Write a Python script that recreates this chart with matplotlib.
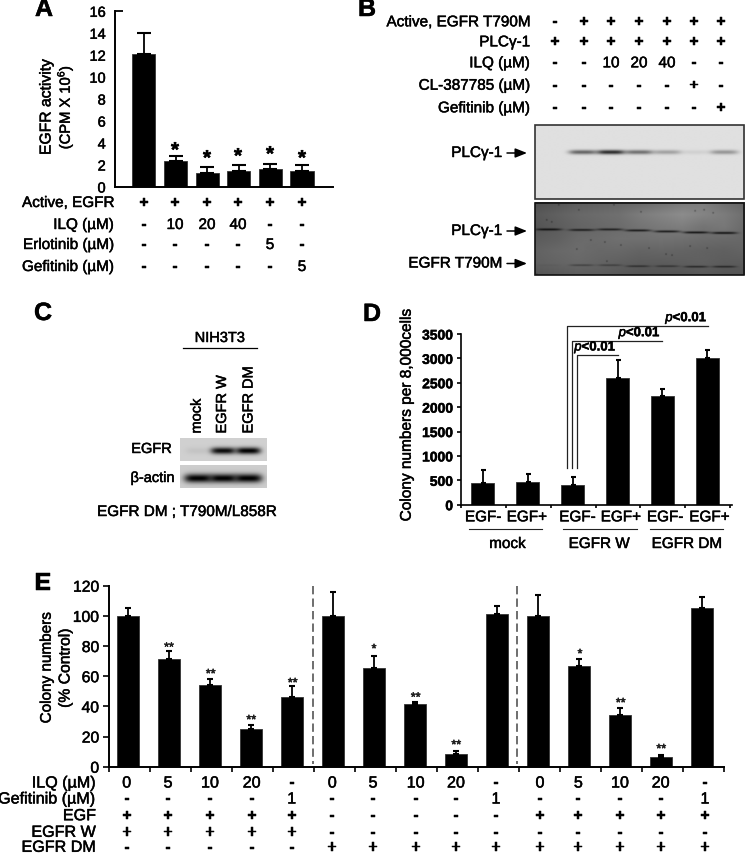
import numpy as np
import matplotlib
matplotlib.use('Agg')
import matplotlib.pyplot as plt
import matplotlib.patheffects as pe

plt.rcParams['font.family'] = ['Liberation Sans', 'DejaVu Sans']
plt.rcParams['mathtext.fontset'] = 'custom'
plt.rcParams['mathtext.rm'] = 'Liberation Sans'
plt.rcParams['mathtext.it'] = 'Liberation Sans:italic'
plt.rcParams['mathtext.bf'] = 'Liberation Sans:bold'

W, H = 745, 854

###################################################################################################
# data

# panel A
a_values = [12.1, 2.4, 1.3, 1.5, 1.65, 1.5]
a_tops = [14.05, 2.85, 1.85, 2.0, 2.1, 2.0]
a_rows = ['Active, EGFR', 'ILQ (µM)', 'Erlotinib (µM)', 'Gefitinib (µM)']
a_table = [['+', '+', '+', '+', '+', '+'],
           ['-', '10', '20', '40', '-', '-'],
           ['-', '-', '-', '-', '5', '-'],
           ['-', '-', '-', '-', '-', '5']]

# panel B
b_rows = ['Active, EGFR T790M', 'PLCγ-1', 'ILQ (µM)', 'CL-387785 (µM)', 'Gefitinib (µM)']
b_table = [['-', '+', '+', '+', '+', '+', '+'],
           ['+', '+', '+', '+', '+', '+', '+'],
           ['-', '-', '10', '20', '40', '-', '-'],
           ['-', '-', '-', '-', '-', '+', '-'],
           ['-', '-', '-', '-', '-', '-', '+']]
b_top_bands = [0.0, 0.55, 0.8, 0.5, 0.28, 0.07, 0.33]
b_load_bands = [0.8, 0.7, 0.7, 0.75, 0.75, 0.8, 0.8]
b_kinase_bands = [0.05, 0.35, 0.35, 0.5, 0.45, 0.6, 0.6]

# panel C
c_lanes = ['mock', 'EGFR W', 'EGFR DM']
c_egfr_bands = [0.06, 0.95, 1.0]
c_actin_bands = [1.0, 1.0, 1.0]

# panel D
d_values = [450, 470, 400, 2600, 2220, 3000]
d_tops = [710, 620, 570, 2970, 2380, 3180]
d_labels = ['EGF-', 'EGF+', 'EGF-', 'EGF+', 'EGF-', 'EGF+']
d_groups = ['mock', 'EGFR W', 'EGFR DM']

# panel E
e_values = [100, 71.5, 54, 25, 46.5, 100, 65.5, 41.4, 8.6, 101.4, 100, 66.5, 34.3, 6.3, 105]
e_tops = [105.5, 76.5, 58, 27.5, 53.5, 115.5, 73.5, 43, 10.6, 106.5, 113.6, 71.6, 38.7, 7.8, 112.3]
e_stars = ['', '**', '**', '**', '**', '', '*', '**', '**', '', '', '*', '**', '**', '']
e_rows = ['ILQ (µM)', 'Gefitinib (µM)', 'EGF', 'EGFR W', 'EGFR DM']
e_table = [['0', '5', '10', '20', '-', '0', '5', '10', '20', '-', '0', '5', '10', '20', '-'],
           ['-', '-', '-', '-', '1', '-', '-', '-', '-', '1', '-', '-', '-', '-', '1'],
           ['+', '+', '+', '+', '+', '-', '-', '-', '-', '-', '+', '+', '+', '+', '+'],
           ['+', '+', '+', '+', '+', '-', '-', '-', '-', '-', '-', '-', '-', '-', '-'],
           ['-', '-', '-', '-', '-', '+', '+', '+', '+', '+', '+', '+', '+', '+', '+']]

###################################################################################################

def px_axes(x0, x1, ytop, ybot):
    # axes placed by pixel box (y counted from the top of the figure)
    ax = fig.add_axes([x0 / W, 1 - ybot / H, (x1 - x0) / W, (ybot - ytop) / H])
    ax.patch.set_alpha(0)
    for s in ['top', 'right']:
        ax.spines[s].set_visible(False)
    return ax

def bars(ax, values, tops, width, cap):
    x = np.arange(len(values))
    ax.bar(x, values, width=width, color='black', edgecolor='#333333', linewidth=0.6)
    ax.errorbar(x, values, yerr=[np.zeros(len(values)), np.array(tops) - np.array(values)],
                fmt='none', ecolor='black', elinewidth=1.3, capsize=cap, capthick=1.5)
    return x

def table(xs, ys, rows, cells, right, size=11):
    for y, name, row in zip(ys, rows, cells):
        ov.text(right, y, name, ha='right', va='center', fontsize=size)
        for x, c in zip(xs, row):
            weight = 'bold' if c in '+-' else 'normal'
            ov.text(x, y, c, ha='center', va='center', fontsize=size, fontweight=weight)

def gel(box, bg, bands, edge=None, grid=None, specks=()):
    # bands: (x, y, half width, half height, strength) in pixels
    x0, x1, y0, y1 = box
    xx, yy = np.meshgrid(np.arange(x0, x1, 0.5), np.arange(y0, y1, 0.5))
    img = np.full(xx.shape, float(bg))
    if grid is not None:
        g = np.array(grid, dtype=float)
        gy = np.interp(yy[:, 0], np.linspace(y0, y1, g.shape[0]), np.arange(g.shape[0]))
        gx = np.interp(xx[0], np.linspace(x0, x1, g.shape[1]), np.arange(g.shape[1]))
        iy0 = np.clip(gy.astype(int), 0, g.shape[0] - 2)
        ix0 = np.clip(gx.astype(int), 0, g.shape[1] - 2)
        fy = (gy - iy0)[:, None]
        fx = (gx - ix0)[None, :]
        img = (g[iy0][:, ix0] * (1 - fx) * (1 - fy) + g[iy0][:, ix0 + 1] * fx * (1 - fy)
               + g[iy0 + 1][:, ix0] * (1 - fx) * fy + g[iy0 + 1][:, ix0 + 1] * fx * fy)
    for bx, by, hw, hh, s in bands:
        p = np.exp(-np.abs((xx - bx) / hw) ** 4 - ((yy - by) / hh) ** 2)
        img = img * (1 - s * p)
    for sx, sy in specks:
        img = img * (1 - 0.45 * np.exp(-((xx - sx) ** 2 + (yy - sy) ** 2) / 0.6))
    ov.imshow(img, extent=[x0, x1, y1, y0], cmap='gray', vmin=0, vmax=255,
              interpolation='bilinear', aspect='auto', zorder=1)
    if edge:
        ov.add_patch(plt.Rectangle((x0, y0), x1 - x0, y1 - y0, fill=False, ec=edge, lw=1.2, zorder=2))

def arrow(x0, x1, y):
    ov.annotate('', xy=(x1, y), xytext=(x0, y),
                arrowprops=dict(arrowstyle='-|>,head_length=0.7,head_width=0.28', color='black',
                                lw=1.1, shrinkA=0, shrinkB=0))

###################################################################################################

fig = plt.figure(figsize=(W / 100, H / 100), dpi=100, facecolor='white')

# overlay in pixel coordinates for labels and gels
ov = fig.add_axes([0, 0, 1, 1], zorder=5)
ov.patch.set_alpha(0)

for letter, x, y in [('A', 44, 10), ('B', 367, 10), ('C', 43, 314), ('D', 372, 315), ('E', 43, 584)]:
    ov.text(x, y, letter, ha='center', va='center', fontsize=18, fontweight='bold')

###################################################################################################
# panel A

ax_a = px_axes(115.5, 333, 12.3, 188)
bars(ax_a, a_values, a_tops, 0.73, 5)
ax_a.set_xlim(-0.9, 5.98)
ax_a.set_ylim(0, 16)
ax_a.set_yticks(np.arange(0, 17, 2))
ax_a.set_xticks([])
ax_a.tick_params(axis='y', direction='in', length=0, labelsize=10.5, pad=7)
ax_a.yaxis.get_major_ticks()[-1].tick1line.set_markersize(6)
ax_a.yaxis.get_major_ticks()[-1].tick1line.set_markeredgewidth(1.3)
for s in ['left', 'bottom']:
    ax_a.spines[s].set_linewidth(1.4)

ov.text(46, 108, 'EGFR activity', rotation=90, ha='center', va='center', fontsize=11.3)
ov.text(65, 108, '(CPM X 10$^6$)', rotation=90, ha='center', va='center', fontsize=10.6)
for cx, cy in zip([175, 207, 238, 270, 302], [152, 160, 158, 156, 160]):
    ov.text(cx, cy, '*', ha='center', va='center', fontsize=15, fontweight='bold')
table([144, 175, 207, 238, 270, 302], [204, 226, 246, 268], a_rows, a_table, 114)

###################################################################################################
# panel B

table([555, 584, 611, 639, 667, 694, 721], [23.3, 43.3, 64.3, 86.7, 109.3], b_rows, b_table, 530)

top_x = [0, 582, 610, 638, 666, 694, 723]
gel((534.5, 744, 126, 199.5), 224,
    [(bx, 152.7, 14, 2.2, s) for bx, s in zip(top_x, b_top_bands) if s > 0], edge='#333333')

# coarse background of the blot, read by eye
blot_grid = [[78, 84, 92, 96, 100, 104, 112, 120, 126, 110, 100],
             [88, 96, 104, 108, 112, 124, 132, 140, 132, 124, 110],
             [84, 92, 100, 104, 108, 116, 122, 126, 116, 120, 106],
             [92, 96, 106, 108, 112, 112, 114, 112, 108, 106, 104],
             [98, 104, 108, 104, 104, 100, 102, 100, 98, 96, 100],
             [96, 100, 104, 100, 96, 92, 92, 94, 96, 92, 92],
             [84, 88, 92, 92, 88, 84, 84, 84, 88, 84, 84]]
load_x = [548, 581, 609, 637, 666, 695, 723]
kinase_x = [548, 581, 609, 637, 666, 695, 723]
load_y = [230.5, 231, 230.5, 231.5, 232.5, 233.5, 234]
kinase_y = [266, 266, 266, 267, 267, 267.5, 267.5]
specks = [(546, 221), (551, 223), (558, 206), (613, 206), (578, 211), (640, 213), (694, 212),
          (703, 211), (665, 255), (671, 256), (604, 243), (648, 249), (606, 262), (706, 249),
          (712, 214), (536, 275), (620, 246), (689, 247), (576, 250), (590, 241)]
gel((534.5, 744, 203.5, 276), 100,
    [(bx, by, 13, 1.1, s) for bx, by, s in zip(load_x, load_y, b_load_bands)]
    + [(bx, by, 12, 0.9, s) for bx, by, s in zip(kinase_x, kinase_y, b_kinase_bands)],
    edge='#111111', grid=blot_grid, specks=specks)

for label, y in [('PLCγ-1', 154), ('PLCγ-1', 232), ('EGFR T790M', 264.5)]:
    ov.text(502, y, label, ha='right', va='center', fontsize=11)
    arrow(507, 527, y)

###################################################################################################
# panel C

c_x = [198, 223, 248]
gel((180, 266.7, 438.5, 461.5), 208,
    [(bx, 451, 12.5, 3.4, s) for bx, s in zip(c_x, c_egfr_bands)])
gel((180, 266.7, 466, 489), 205,
    [(bx, 479, 14, 4.4, s) for bx, s in zip(c_x, c_actin_bands)])
for lx, name in zip([196.7, 222, 248.5], c_lanes):
    ov.text(lx, 434.5, name, rotation=90, ha='center', va='bottom', fontsize=10.5)
ov.text(220, 339, 'NIH3T3', ha='center', va='center', fontsize=10.5)
ov.plot([183.3, 257.3], [349, 349], color='black', lw=0.9)
ov.text(172, 450, 'EGFR', ha='right', va='center', fontsize=10.5)
ov.text(175, 479, 'β-actin', ha='right', va='center', fontsize=10.5)
ov.text(186.7, 513, 'EGFR DM ; T790M/L858R', ha='center', va='center', fontsize=11)

###################################################################################################
# panel D

ax_d = px_axes(460.7, 731.7, 335, 505.7)
bars(ax_d, d_values, d_tops, 0.5, 1.8)
ax_d.set_xlim(-0.49, 5.54)
ax_d.set_ylim(0, 3500)
ax_d.set_yticks(np.arange(0, 3501, 500))
ax_d.set_xticks(np.arange(-0.49, 5.6, 1))
ax_d.set_xticklabels([])
ax_d.tick_params(axis='y', length=3, width=1.2, labelsize=10, pad=2.5)
ax_d.tick_params(axis='x', length=2.5, width=1.2)
for lab in ax_d.get_yticklabels():
    lab.set_fontweight('bold')
for s in ['left', 'bottom']:
    ax_d.spines[s].set_linewidth(1.2)

ov.text(406.7, 416.5, 'Colony numbers per 8,000cells', rotation=90, ha='center', va='center', fontsize=11.1)
for lx, name in zip([483, 526.7, 577.3, 620.7, 665, 709.3], d_labels):
    ov.text(lx, 518.3, name, ha='center', va='center', fontsize=11)
for (l0, l1), name, lx in zip([(469, 542.3), (562.7, 636.7), (650, 723.3)], d_groups, [507.3, 599, 686.7]):
    ov.plot([l0, l1], [530, 530], color='#222222', lw=0.8)
    ov.text(lx, 545, name, ha='center', va='center', fontsize=11)

for xl, xr, yl, yb, tx in [(567.3, 707.7, 326.7, 469, 686.7),
                           (572.3, 661.7, 341.7, 469, 640),
                           (576.7, 618.3, 356, 469, 595.7)]:
    ov.plot([xl, xl, xr], [yb, yl, yl], color='#222222', lw=0.9)
    ov.text(tx, yl - 7.5, '$\\mathit{p}$<0.01', ha='center', va='center', fontsize=9.5, fontweight='bold')

###################################################################################################
# panel E

ax_e = px_axes(109, 724, 586.7, 767.7)
bars(ax_e, e_values, e_tops, 0.54, 2.2)
ax_e.set_xlim(-0.47, 14.53)
ax_e.set_ylim(0, 120)
ax_e.set_yticks(np.arange(0, 121, 20))
ax_e.set_xticks(np.arange(-0.47, 14.6, 1))
ax_e.set_xticklabels([])
ax_e.tick_params(axis='y', length=4, width=1.2, labelsize=11.3, pad=3)
ax_e.tick_params(axis='x', length=3.5, width=1.2)
for s in ['left', 'bottom']:
    ax_e.spines[s].set_linewidth(1.4)

ov.text(46.7, 669, 'Colony numbers', rotation=90, ha='center', va='center', fontsize=11)
ov.text(65, 669, '(% Control)', rotation=90, ha='center', va='center', fontsize=11.3)

star_x = [128.3, 169, 210.7, 251.3, 292.7, 333.3, 374, 415.7, 456.3, 497.7, 538.3, 580, 620.7, 661.3, 702.7]
star_y = [0, 649, 675.5, 721.5, 684.5, 0, 650.5, 699, 746.5, 0, 0, 655.5, 704.5, 750.5, 0]
for sx, sy, s in zip(star_x, star_y, e_stars):
    if s:
        ov.text(sx, sy, s, ha='center', va='center', fontsize=9, color='#222222')

for dx in [312.7, 517]:
    ov.plot([dx, dx], [586.7, 765], color='#555555', lw=1.2, dashes=(5, 2.5))

e_cols = [126.7, 168, 210, 251.7, 291.7, 332.3, 373, 415.7, 456, 496, 540, 578.3, 620, 660.7, 705]
table(e_cols, [784, 800, 816.7, 833.3, 848.3], e_rows, e_table, 96, size=11.6)

###################################################################################################
# the reference text is slightly heavier than the regular weight

heavy = [pe.withStroke(linewidth=0.35, foreground='black')]
for t in ov.texts:
    t.set_path_effects(heavy)
for a in [ax_a, ax_d, ax_e]:
    for lab in a.get_yticklabels():
        lab.set_path_effects(heavy)

ov.set_xlim(0, W)
ov.set_ylim(H, 0)
ov.axis('off')

fig.savefig('out.png', dpi=100)
